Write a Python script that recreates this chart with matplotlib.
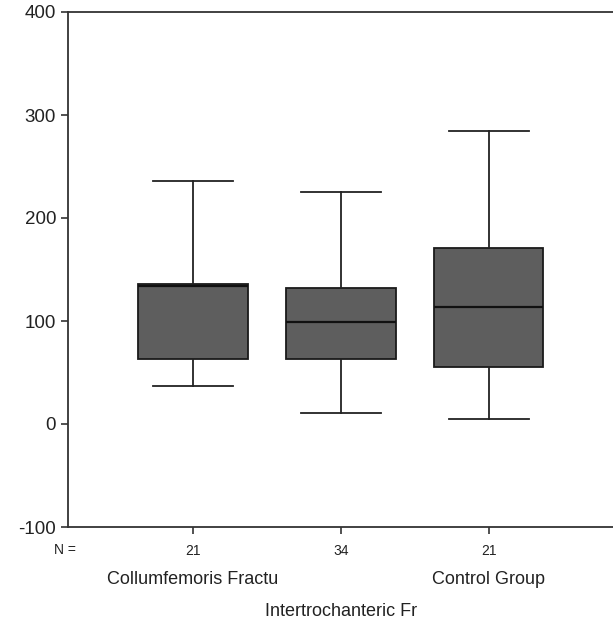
import matplotlib
matplotlib.use("Agg")
import matplotlib.pyplot as plt
import matplotlib.transforms as mtransforms

plt.rcParams['font.family'] = ['Liberation Sans', 'DejaVu Sans']
plt.rcParams['axes.unicode_minus'] = False

# values
groups = ["Collumfemoris Fractu", "Intertrochanteric Fr", "Control Group"]
n_counts = ["21", "34", "21"]
whis_lo = [37, 11, 5]
q1 = [63, 63, 55]
medians = [134, 99, 114]
q3 = [136, 132, 171]
whis_hi = [236, 225, 284]

stats = []
for i in range(len(groups)):
    stats.append({"label": n_counts[i], "whislo": whis_lo[i], "q1": q1[i],
                  "med": medians[i], "q3": q3[i], "whishi": whis_hi[i],
                  "fliers": []})

fig = plt.figure(figsize=(6.13, 6.27), dpi=100)
ax = fig.add_axes([68/613, 100/627, 1 - 68/613, (527-12)/627])

lw = 1.3
ax.bxp(stats, positions=[1, 2, 3], widths=0.74, patch_artist=True,
       showfliers=False,
       boxprops=dict(facecolor="#5e5e5e", edgecolor="#1a1a1a", linewidth=lw),
       medianprops=dict(color="#111111", linewidth=lw + 0.3),
       whiskerprops=dict(color="#222222", linewidth=lw),
       capprops=dict(color="#222222", linewidth=lw),
       capwidths=0.54)

ax.set_xlim(0.155, 3.84)
ax.set_ylim(-100, 400)
ax.set_yticks([-100, 0, 100, 200, 300, 400])
ax.tick_params(axis="y", labelsize=13.5, direction="out", length=5,
               width=1.2, color="#333333", labelcolor="#222222")
ax.tick_params(axis="x", labelsize=10, direction="out", length=5,
               width=1.2, color="#333333", pad=7, labelcolor="#222222")
ax.set_xticks([1, 2, 3])
ax.set_xticklabels(n_counts)
for s in ["top", "left", "bottom"]:
    ax.spines[s].set_linewidth(1.3)
    ax.spines[s].set_color("#333333")
ax.spines["right"].set_visible(False)

fig.text(54/613, 1 - 550/627, "N =", fontsize=10, ha="left", va="center",
         color="#222222")

trans = mtransforms.blended_transform_factory(ax.transData, fig.transFigure)
label_y = [1 - 580/627, 1 - 612/627, 1 - 580/627]
for i, g in enumerate(groups):
    ax.text(i + 1, label_y[i], g, transform=trans, ha="center", va="center",
            fontsize=13, color="#222222")

fig.savefig("out.png", dpi=100, facecolor="white")
